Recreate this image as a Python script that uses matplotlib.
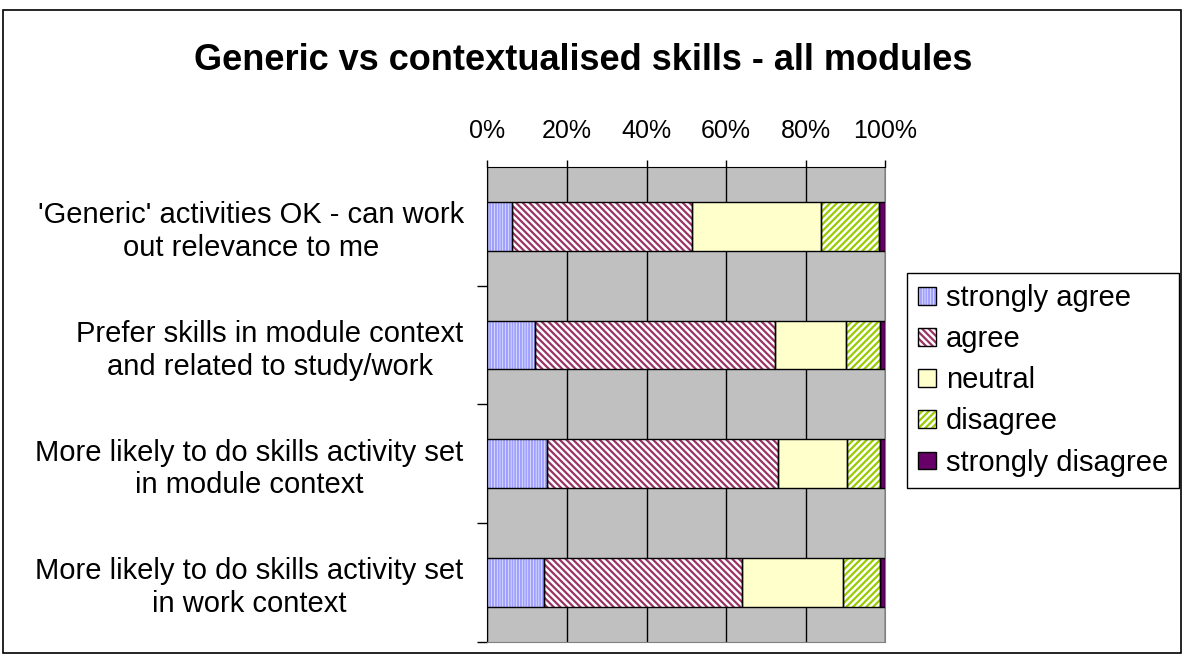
import matplotlib
matplotlib.use("Agg")
import matplotlib.pyplot as plt
from matplotlib.patches import Rectangle, Patch
from matplotlib.legend_handler import HandlerPatch
import numpy as np

plt.rcParams['font.family'] = ['Liberation Sans', 'DejaVu Sans']
plt.rcParams['hatch.linewidth'] = 1.6

title = "Generic vs contextualised skills - all modules"
categories = [
    "'Generic' activities OK - can work\nout relevance to me",
    "Prefer skills in module context\nand related to study/work",
    "More likely to do skills activity set\nin module context",
    "More likely to do skills activity set\nin work context",
]
series_names = ["strongly agree", "agree", "neutral", "disagree", "strongly disagree"]
strongly_agree = [6.2, 12.1, 15.0, 14.2]
agree = [45.2, 60.3, 58.1, 49.9]
neutral = [32.4, 17.7, 17.4, 25.2]
disagree = [14.7, 8.6, 8.2, 9.4]
strongly_disagree = [1.5, 1.3, 1.3, 1.3]
x_ticks = [0, 20, 40, 60, 80, 100]
x_tick_labels = ["0%", "20%", "40%", "60%", "80%", "100%"]

series = [strongly_agree, agree, neutral, disagree, strongly_disagree]
# (face, hatch colour, hatch)
styles = [
    ("white", "#A0A0FF", "||||||"),
    ("white", "#993366", "\\\\\\\\\\"),
    ("#FFFFCC", "#FFFFCC", None),
    ("white", "#99CC00", "/////"),
    ("#660066", "#660066", None),
]

W, H = 1184, 654
fig = plt.figure(figsize=(W / 100, H / 100), dpi=100)

# outer border
fig.patches.append(Rectangle((3 / W, 1 / H), 1178 / W, 643 / H, transform=fig.transFigure,
                             fill=False, edgecolor="black", linewidth=1.2, zorder=0))

left, right, top, bottom = 487.3, 885.3, 167, 641.5
ax = fig.add_axes([left / W, 1 - bottom / H, (right - left) / W, (bottom - top) / H])
ax.set_facecolor("#C0C0C0")

n = len(categories)
ypos = np.arange(n)
bar_h = 0.41
lefts = np.zeros(n)
for vals, (face, hc, hatch) in zip(series, styles):
    vals = np.array(vals)
    ax.barh(ypos, vals, left=lefts, height=bar_h, color=face, edgecolor=hc,
            hatch=hatch, linewidth=0, zorder=3)
    ax.barh(ypos, vals, left=lefts, height=bar_h, fill=False, edgecolor="black",
            linewidth=1.0, zorder=4)
    lefts += vals

ax.set_xlim(0, 100)
ax.set_ylim(n - 0.5, -0.5)
ax.xaxis.tick_top()
ax.set_xticks(x_ticks)
ax.set_xticklabels(x_tick_labels, fontsize=18)
ax.tick_params(axis="x", direction="out", length=5, width=1, pad=12, color="black")
ax.grid(axis="x", color="black", linewidth=1, zorder=1)
ax.set_axisbelow(True)

ax.set_yticks(np.arange(n) + 0.5)
ax.set_yticklabels([])
ax.tick_params(axis="y", which="major", direction="out", length=7, width=1)
ax.set_yticks(ypos, minor=True)
ax.set_yticklabels(categories, minor=True, fontsize=21, multialignment="center",
                   linespacing=1.22)
ax.tick_params(axis="y", which="minor", length=0, pad=17)

ax.spines["top"].set_color("black")
ax.spines["left"].set_color("black")
ax.spines["right"].set_color("#808080")
ax.spines["bottom"].set_color("#808080")

fig.text(583 / W, 1 - 60 / H, title, fontsize=26, fontweight="bold",
         ha="center", va="center")

handles = [Patch(facecolor=face, edgecolor=hc, hatch=hatch, linewidth=0)
           for face, hc, hatch in styles]


class BoxHandler(HandlerPatch):
    def create_artists(self, legend, orig_handle, xdescent, ydescent, width, height, fontsize, trans):
        s = min(width, height)
        x0 = -xdescent + (width - s) / 2
        y0 = -ydescent + (height - s) / 2
        p = Rectangle((x0, y0), s, s, facecolor=orig_handle.get_facecolor(),
                      edgecolor=orig_handle.get_edgecolor(), hatch=orig_handle.get_hatch(),
                      linewidth=0, transform=trans)
        b = Rectangle((x0, y0), s, s, fill=False, edgecolor="black", linewidth=1, transform=trans)
        return [p, b]


leg = fig.legend(handles, series_names, loc="upper left",
                 bbox_to_anchor=(907 / W, 1 - 273 / H), fontsize=21,
                 frameon=True, fancybox=False, edgecolor="black", framealpha=1,
                 handlelength=0.6, handleheight=0.6, handletextpad=0.35,
                 labelspacing=0.45, borderpad=0.38, borderaxespad=0,
                 handler_map={Patch: BoxHandler()})
leg.get_frame().set_linewidth(1)

fig.savefig("out.png", dpi=100)
